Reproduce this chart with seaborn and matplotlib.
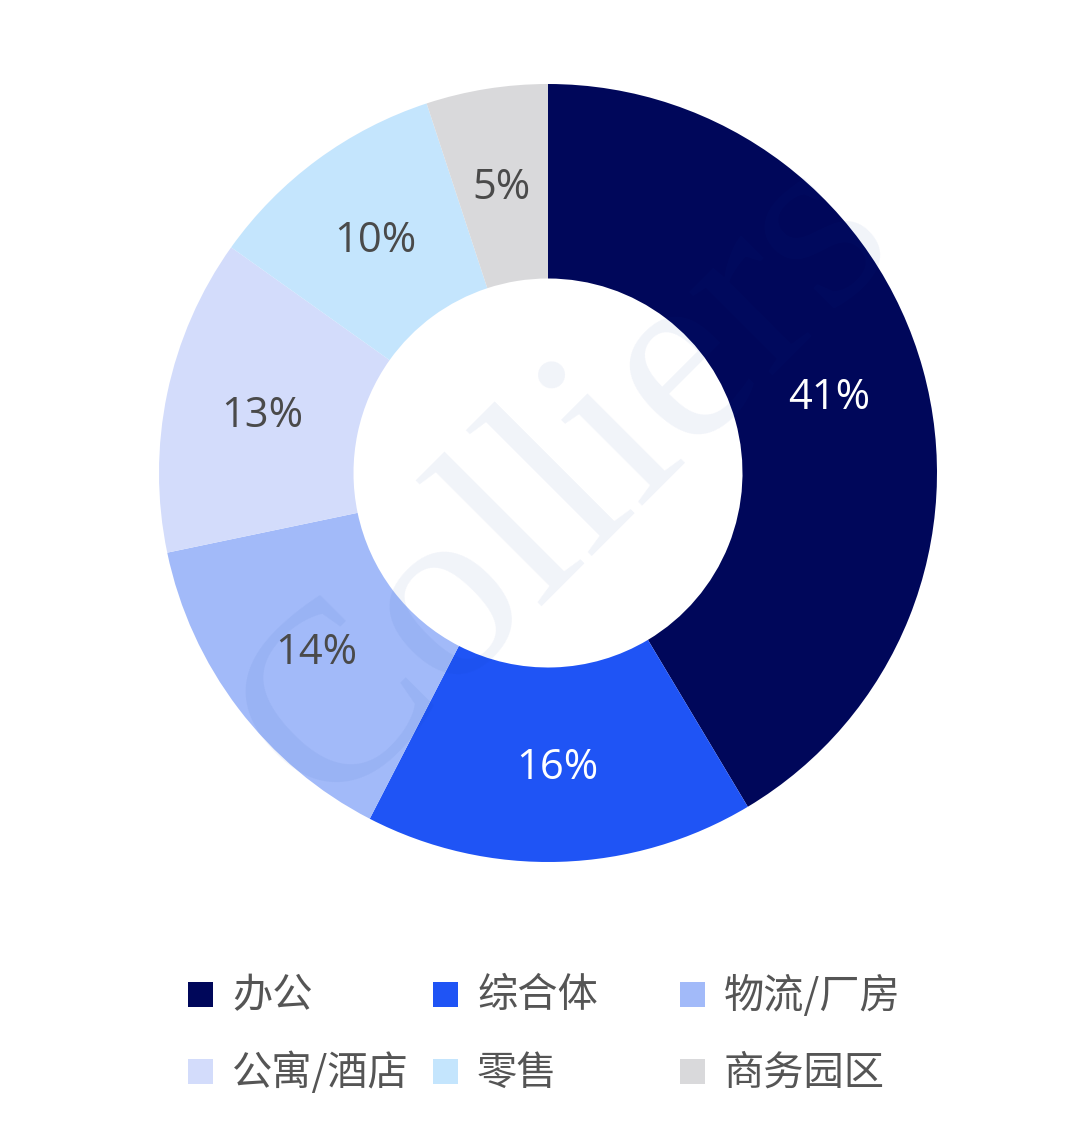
import matplotlib
matplotlib.use("Agg")
import matplotlib.pyplot as plt
import seaborn as sns
import numpy as np
from matplotlib.patches import Rectangle

# ---- data ----
categories = ["办公", "综合体", "物流/厂房", "公寓/酒店", "零售", "商务园区"]
shares = [41, 16, 14, 13, 10, 5]
pct_labels = ["41%", "16%", "14%", "13%", "10%", "5%"]
colors = ["#00075A", "#1F54F5", "#A2BAF9", "#D3DCFB", "#C4E5FD", "#D9D9DB"]
label_colors = ["white", "white", "#4A4A4A", "#4A4A4A", "#4A4A4A", "#4A4A4A"]

sns.set_theme(style="white")
plt.rcParams["font.family"] = ["Open Sans", "Noto Sans CJK SC", "DejaVu Sans"]

W, H = 1080, 1127
fig = plt.figure(figsize=(W / 100, H / 100), dpi=100)
fig.patch.set_facecolor("white")

cx, cy, R = 548, 473, 389
ax = fig.add_axes([(cx - R) / W, 1 - (cy + R) / H, 2 * R / W, 2 * R / H])
ax.set_facecolor("white")

wedges, _ = ax.pie(
    shares,
    colors=colors,
    startangle=90,
    counterclock=False,
    radius=1.0,
    wedgeprops=dict(width=0.5, linewidth=0),
)

total = sum(shares)
cum = 0
for val, lab, lc in zip(shares, pct_labels, label_colors):
    mid = 90 - 360 * (cum + val / 2) / total
    cum += val
    r = 0.75
    ax.text(r * np.cos(np.radians(mid)), r * np.sin(np.radians(mid)) - 0.008, lab,
            ha="center", va="center", fontsize=30, color=lc,
            family=["Open Sans", "DejaVu Sans"])

# watermark
ax.text(0.05, -0.026, "Colliers", rotation=45, ha="center", va="center",
        fontsize=184, family=["Liberation Serif", "DejaVu Serif"],
        color="#0A3CA0", alpha=0.06, zorder=5)

ax.set_xlim(-1, 1)
ax.set_ylim(-1, 1)
ax.set_aspect("equal")
ax.axis("off")

# ---- legend (fixed-width columns) ----
col_x = [188, 433, 680]
row_y = [994, 1071]
for i, (cat, col) in enumerate(zip(categories, colors)):
    r, c = divmod(i, 3)
    x0, y0 = col_x[c], row_y[r]
    fig.patches.append(Rectangle((x0 / W, 1 - (y0 + 12.5) / H), 25 / W, 25 / H,
                                 transform=fig.transFigure, facecolor=col,
                                 edgecolor="none"))
    fig.text((x0 + 44) / W, 1 - (y0 + 2) / H, cat, ha="left", va="center",
             fontsize=29, color="#555555",
             family=["Noto Sans CJK SC", "DejaVu Sans"])

fig.savefig("out.png", dpi=100, facecolor="white")
